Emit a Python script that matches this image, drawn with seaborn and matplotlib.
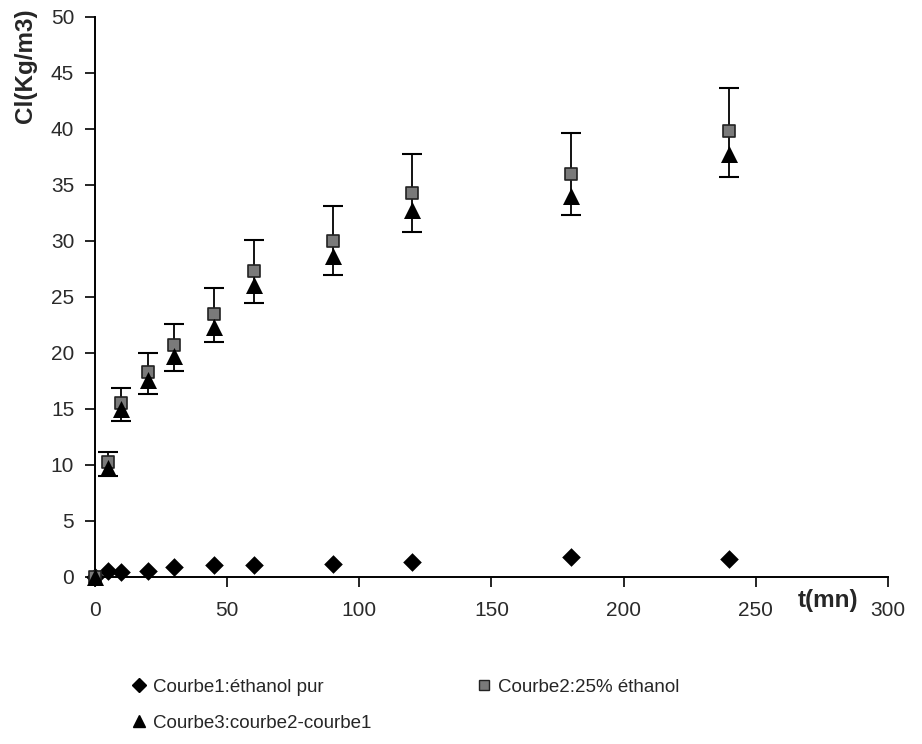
import matplotlib
matplotlib.use("Agg")
import matplotlib.pyplot as plt
import seaborn as sns
import numpy as np
import pandas as pd
from matplotlib.lines import Line2D

# Sampling times (minutes)
t_mn = [0, 5, 10, 20, 30, 45, 60, 90, 120, 180, 240]

# Concentration (kg/m3) for each curve
courbe1 = [0, 0.55, 0.45, 0.5, 0.9, 1.05, 1.05, 1.15, 1.3, 1.8, 1.6]
courbe2 = [0, 10.3, 15.5, 18.3, 20.7, 23.5, 27.3, 30.0, 34.3, 36.0, 39.8]
courbe3 = [0, 9.7, 15.0, 17.6, 19.7, 22.3, 26.1, 28.7, 32.8, 34.0, 37.8]

# Error bar extents: upper for curve 2, lower for curve 3
err2_up = [0, 0.9, 1.4, 1.7, 1.9, 2.3, 2.8, 3.1, 3.5, 3.6, 3.9]
err3_down = [0, 0.7, 1.1, 1.3, 1.3, 1.3, 1.6, 1.7, 2.0, 1.7, 2.1]

legend_labels = ["Courbe1:éthanol pur", "Courbe2:25% éthanol", "Courbe3:courbe2-courbe1"]

sns.set_style("ticks")
plt.rcParams["font.family"] = ["Liberation Sans", "DejaVu Sans"]

fig = plt.figure(figsize=(9.22, 7.44), dpi=100)
ax = fig.add_axes([0.103, 0.2245, 0.860, 0.7527])

df = pd.DataFrame({"t": t_mn, "c1": courbe1, "c2": courbe2, "c3": courbe3})
top = df["c2"] + np.array(err2_up)
bottom = df["c3"] - np.array(err3_down)
has_err = np.array(err2_up) > 0

# Error bars: one stem from the lower cap of curve 3 to the upper cap of curve 2
ax.vlines(df["t"][has_err], bottom[has_err], top[has_err], color="black", linewidth=1.3, zorder=2)
ax.scatter(df["t"][has_err], top[has_err], marker="_", s=220, color="black", linewidths=1.5, zorder=2)
ax.scatter(df["t"][has_err], bottom[has_err], marker="_", s=220, color="black", linewidths=1.5, zorder=2)

sns.scatterplot(data=df, x="t", y="c1", marker="D", s=90, color="black",
                edgecolor="black", linewidth=0, ax=ax, zorder=3, clip_on=False)
sns.scatterplot(data=df, x="t", y="c2", marker="s", s=80, color="#7a7a7a",
                edgecolor="#222222", linewidth=1.2, ax=ax, zorder=4, clip_on=False)
sns.scatterplot(data=df, x="t", y="c3", marker="^", s=150, color="black",
                edgecolor="black", linewidth=0, ax=ax, zorder=5, clip_on=False)

ax.set_xlim(0, 300)
ax.set_ylim(0, 50)
ax.set_xticks(range(0, 301, 50))
ax.set_yticks(range(0, 51, 5))
ax.set_xlabel("")
ax.set_ylabel("")
sns.despine(ax=ax)
for side in ("left", "bottom"):
    ax.spines[side].set_linewidth(1.4)
    ax.spines[side].set_color("black")
ax.tick_params(axis="both", direction="out", length=7, width=1.2, color="black",
               labelsize=15, labelcolor="#2a2a2a")
ax.tick_params(axis="x", pad=10.5)
ax.tick_params(axis="y", pad=8)

fig.text(828 / 922, 1 - 601 / 744, "t(mn)", fontsize=17.5, fontweight="bold",
         ha="center", va="center")
fig.text(26 / 922, 1 - 66 / 744, "Cl(Kg/m3)", fontsize=17.5, fontweight="bold",
         rotation=90, ha="center", va="center")

handles = [
    Line2D([], [], linestyle="none", marker="D", markersize=7, color="black"),
    Line2D([], [], linestyle="none", marker="^", markersize=8, color="black"),
    Line2D([], [], linestyle="none", marker="s", markersize=7, markerfacecolor="#7a7a7a",
           markeredgecolor="#222222"),
]
labels = [legend_labels[0], legend_labels[2], legend_labels[1]]
fig.legend(handles, labels, ncol=2, loc="upper left", bbox_to_anchor=(0.145, 0.088),
           frameon=False, fontsize=13.5, handlelength=0.6, handletextpad=0.45,
           columnspacing=5.7, labelspacing=1.0, borderaxespad=0, borderpad=0)

fig.savefig("out.png", dpi=100)
